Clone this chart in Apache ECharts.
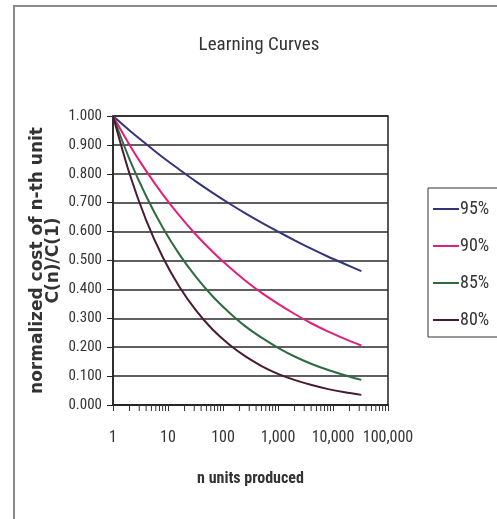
<!DOCTYPE html>
<html>
<head>
<meta charset="utf-8">
<style>
  html, body { margin: 0; padding: 0; background: #fff; }
  #chart { width: 497px; height: 519px; }
</style>
<script src="https://cdn.jsdelivr.net/npm/echarts@6/dist/echarts.min.js"></script>
</head>
<body>
<div id="chart"></div>
<script>
// units produced (doubling steps)
var units = [1, 2, 4, 8, 16, 32, 64, 128, 256, 512, 1024, 2048, 4096, 8192, 16384, 32768];
var curve95 = [1.000, 0.950, 0.903, 0.857, 0.815, 0.774, 0.735, 0.698, 0.663, 0.630, 0.599, 0.569, 0.540, 0.513, 0.488, 0.463];
var curve90 = [1.000, 0.900, 0.810, 0.729, 0.656, 0.590, 0.531, 0.478, 0.430, 0.387, 0.349, 0.314, 0.282, 0.254, 0.229, 0.206];
var curve85 = [1.000, 0.850, 0.723, 0.614, 0.522, 0.444, 0.377, 0.321, 0.272, 0.232, 0.197, 0.167, 0.142, 0.121, 0.103, 0.087];
var curve80 = [1.000, 0.800, 0.640, 0.512, 0.410, 0.328, 0.262, 0.210, 0.168, 0.134, 0.107, 0.086, 0.069, 0.055, 0.044, 0.035];
var seriesNames = ['95%', '90%', '85%', '80%'];
var seriesColors = ['#34347a', '#e0207a', '#2f6b3f', '#4a1a35'];
var minorTickValues = [2, 3, 4, 5, 6, 7, 8, 9,
  20, 30, 40, 50, 60, 70, 80, 90,
  200, 300, 400, 500, 600, 700, 800, 900,
  2000, 3000, 4000, 5000, 6000, 7000, 8000, 9000,
  20000, 30000, 40000, 50000, 60000, 70000, 80000, 90000];

var narrow = "'Roboto Condensed', 'Liberation Sans', sans-serif";

function pairs(ys) {
  return units.map(function (u, i) { return [u, ys[i]]; });
}

var chartDom = document.getElementById('chart');
var myChart = echarts.init(chartDom, null, { renderer: 'canvas' });

var lineData = [curve95, curve90, curve85, curve80];
var series = lineData.map(function (ys, i) {
  return {
    name: seriesNames[i],
    type: 'line',
    data: pairs(ys),
    symbol: 'none',
    smooth: 0.3,
    lineStyle: { color: seriesColors[i], width: 2 },
    itemStyle: { color: seriesColors[i] },
    z: 5
  };
});

// minor ticks on the log axis
series.push({
  name: 'minorTicks',
  type: 'custom',
  silent: true,
  data: minorTickValues.map(function (v) { return [v, 0]; }),
  renderItem: function (params, api) {
    var pt = api.coord([api.value(0), 0]);
    return {
      type: 'line',
      shape: { x1: pt[0], y1: pt[1], x2: pt[0], y2: pt[1] + 6 },
      style: { stroke: '#333', lineWidth: 1 }
    };
  }
});

var option = {
  animation: false,
  backgroundColor: '#fff',
  textStyle: { fontFamily: narrow },
  title: {
    text: 'Learning Curves',
    left: 254,
    textAlign: 'center',
    top: 31,
    textStyle: { fontFamily: narrow, fontSize: 19, fontWeight: 'normal', color: '#333' }
  },
  graphic: [{
    type: 'rect',
    shape: { x: 14, y: 6, width: 520, height: 530 },
    style: { fill: 'none', stroke: '#8a8a8a', lineWidth: 2 },
    silent: true
  }],
  grid: {
    left: 113,
    right: 109,
    top: 116,
    bottom: 114,
    show: true,
    borderColor: '#222',
    borderWidth: 1.5
  },
  legend: {
    data: seriesNames.map(function (n) { return { name: n, icon: 'rect' }; }),
    orient: 'vertical',
    left: 428,
    top: 188,
    padding: [12, 60, 8, 5],
    itemWidth: 26,
    itemHeight: 2,
    itemGap: 19,
    borderColor: '#333',
    borderWidth: 1,
    textStyle: { fontFamily: narrow, fontSize: 18, lineHeight: 16, color: '#333', padding: [0, 0, 0, -4] }
  },
  xAxis: {
    type: 'log',
    logBase: 10,
    min: 1,
    max: 100000,
    name: 'n units produced',
    nameLocation: 'middle',
    nameGap: 66,
    nameMoveOverlap: false,
    nameTextStyle: { fontFamily: narrow, fontSize: 16, fontWeight: 'bold', color: '#333' },
    axisLine: { lineStyle: { color: '#222', width: 1.5 } },
    axisTick: { show: true, length: 6, inside: false, lineStyle: { color: '#333' } },
    splitLine: { show: false },
    axisLabel: {
      margin: 25,
      fontFamily: narrow,
      fontSize: 16,
      color: '#333',
      formatter: function (v) { return Number(v).toLocaleString('en-US'); }
    }
  },
  yAxis: {
    type: 'value',
    min: 0,
    max: 1,
    interval: 0.1,
    name: 'normalized cost of n-th unit\nC(n)/C(1)',
    nameLocation: 'middle',
    nameGap: 51,
    nameMoveOverlap: false,
    nameTextStyle: { fontFamily: "'DejaVu Sans', sans-serif", fontSize: 17, fontWeight: 'bold', color: '#333', lineHeight: 16 },
    axisLine: { show: true, lineStyle: { color: '#222', width: 1.5 } },
    axisTick: { show: true, length: 6, lineStyle: { color: '#222' } },
    splitLine: { show: true, lineStyle: { color: '#2a2a2a', width: 1.5 } },
    axisLabel: {
      margin: 11,
      fontFamily: narrow,
      fontSize: 15,
      color: '#333',
      formatter: function (v) { return v.toFixed(3); }
    }
  },
  series: series
};

myChart.setOption(option, true);
</script>
</body>
</html>
